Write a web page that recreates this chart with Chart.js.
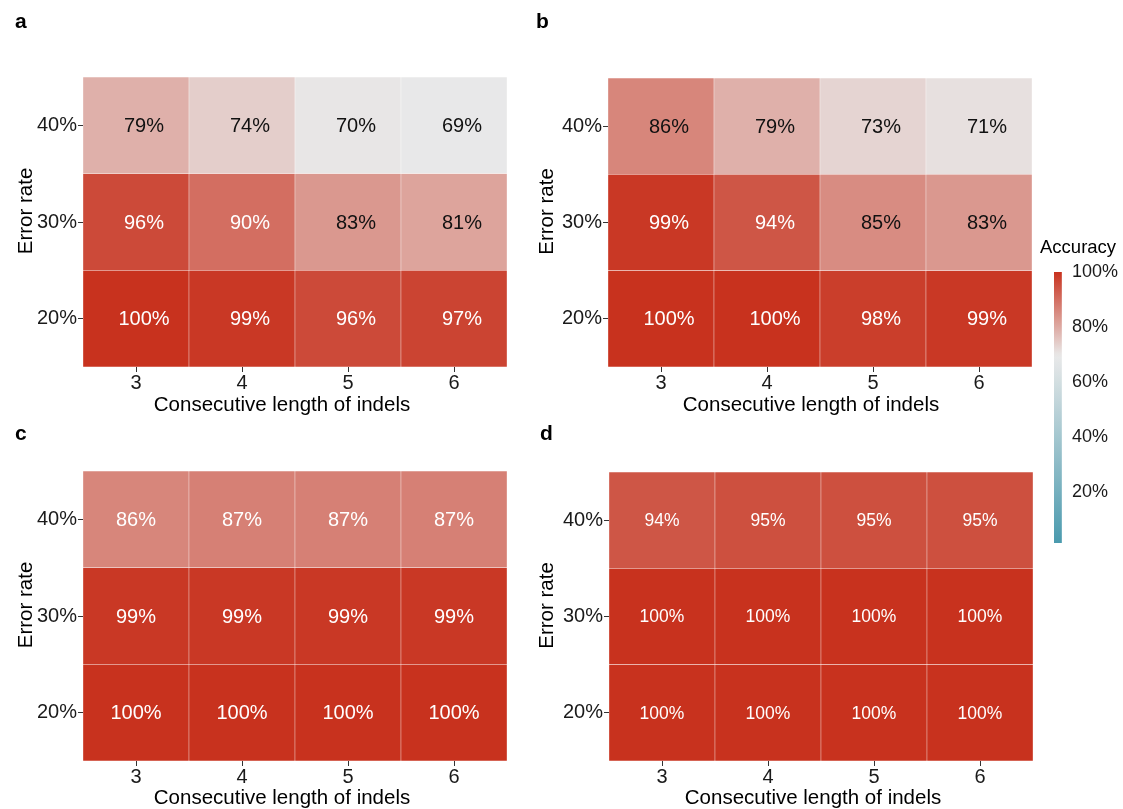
<!DOCTYPE html>
<html>
<head>
<meta charset="utf-8">
<script src="https://cdn.jsdelivr.net/npm/chart.js@4.4.1/dist/chart.umd.min.js"></script>
<style>
  html, body { margin: 0; padding: 0; background: #ffffff; }
  body { width: 1123px; height: 809px; position: relative; overflow: hidden; }
  canvas { position: absolute; }
</style>
</head>
<body>
<canvas id="panelA"></canvas>
<canvas id="panelB"></canvas>
<canvas id="panelC"></canvas>
<canvas id="panelD"></canvas>
<canvas id="legendBar"></canvas>
<script>
// Categories
const indelLengths = ['3', '4', '5', '6'];
const errorRates = ['20%', '30%', '40%'];

// Accuracy (%) by error rate row, for indel lengths 3..6
const accA_err20 = [100, 99, 96, 97];
const accA_err30 = [96, 90, 83, 81];
const accA_err40 = [79, 74, 70, 69];

const accB_err20 = [100, 100, 98, 99];
const accB_err30 = [99, 94, 85, 83];
const accB_err40 = [86, 79, 73, 71];

const accC_err20 = [100, 100, 100, 100];
const accC_err30 = [99, 99, 99, 99];
const accC_err40 = [86, 87, 87, 87];

const accD_err20 = [100, 100, 100, 100];
const accD_err30 = [100, 100, 100, 100];
const accD_err40 = [94, 95, 95, 95];

// Colour bar
const legendTicks = [20, 40, 60, 80, 100];
const legendRange = [1.3, 100];

const FONT = "'Liberation Sans', Arial, Helvetica, sans-serif";
Chart.defaults.font.family = FONT;

// ---- diverging fill: teal -> light grey -> red ----
function hexToRgb(h) {
  return [parseInt(h.slice(1, 3), 16), parseInt(h.slice(3, 5), 16), parseInt(h.slice(5, 7), 16)];
}
const LOW = hexToRgb('#4a9aae');
const MID = hexToRgb('#e9e9e9');
const HIGH = hexToRgb('#c8321e');
const MID_AT = 69.5;
function accuracyColor(pct) {
  let a, b, t;
  if (pct >= MID_AT) { a = MID; b = HIGH; t = (pct - MID_AT) / (100 - MID_AT); }
  else { a = LOW; b = MID; t = (pct - legendRange[0]) / (MID_AT - legendRange[0]); }
  t = Math.max(0, Math.min(1, t));
  const rgb = [0, 1, 2].map(i => Math.round(a[i] + (b[i] - a[i]) * t));
  return 'rgb(' + rgb.join(',') + ')';
}

// ---- cell value labels, axis titles and panel tags ----
const cellLabels = {
  id: 'cellLabels',
  afterDatasetsDraw(chart, args, opts) {
    const ctx = chart.ctx;
    ctx.save();
    ctx.font = opts.size + 'px ' + FONT;
    ctx.textAlign = 'center';
    ctx.textBaseline = 'middle';
    chart.data.datasets.forEach((ds, di) => {
      const meta = chart.getDatasetMeta(di);
      meta.data.forEach((el, i) => {
        const v = ds.values[i];
        ctx.fillStyle = v >= opts.whiteFrom ? '#ffffff' : '#111111';
        ctx.fillText(v + '%', el.x + opts.shift, (el.y + el.base) / 2 + 1);
      });
    });
    ctx.restore();
  }
};
const axisTitles = {
  id: 'axisTitles',
  afterDraw(chart, args, opts) {
    const ctx = chart.ctx;
    const area = chart.chartArea;
    ctx.save();
    ctx.font = opts.size + 'px ' + FONT;
    ctx.fillStyle = '#000';
    ctx.textAlign = 'center';
    ctx.textBaseline = 'middle';
    ctx.fillText(opts.xText, (area.left + area.right) / 2 + opts.xShift, opts.xTitleY);
    ctx.translate(opts.yTitleX, (area.top + area.bottom) / 2 + opts.yShift);
    ctx.rotate(-Math.PI / 2);
    ctx.fillText(opts.yText, 0, 0);
    ctx.restore();
  }
};
const panelTag = {
  id: 'panelTag',
  afterDraw(chart, args, opts) {
    const ctx = chart.ctx;
    ctx.save();
    ctx.font = 'bold ' + opts.size + 'px ' + FONT;
    ctx.fillStyle = '#000';
    ctx.textAlign = 'left';
    ctx.textBaseline = 'alphabetic';
    ctx.fillText(opts.text, opts.x, opts.y);
    ctx.restore();
  }
};

function heatmap(id, p) {
  const canvas = document.getElementById(id);
  canvas.width = p.w; canvas.height = p.h;
  canvas.style.left = p.x + 'px'; canvas.style.top = p.y + 'px';
  const datasets = p.rows.map((vals, r) => ({
    data: vals.map(() => [r + 0.5, r + 1.5]),
    values: vals,
    backgroundColor: vals.map(accuracyColor),
    borderColor: '#ffffff',
    borderWidth: 0.5,
    borderSkipped: false,
    grouped: false,
    barPercentage: 1,
    categoryPercentage: 1
  }));
  return new Chart(canvas, {
    type: 'bar',
    data: { labels: indelLengths, datasets },
    plugins: [cellLabels, axisTitles, panelTag],
    options: {
      responsive: false,
      animation: false,
      devicePixelRatio: 1,
      layout: { padding: { top: p.padTop, right: p.padRight, left: 0, bottom: 0 } },
      plugins: {
        legend: { display: false },
        tooltip: { enabled: false },
        cellLabels: { size: p.labelSize, whiteFrom: p.whiteFrom, shift: p.labelShift },
        axisTitles: {
          size: 20.5,
          xText: 'Consecutive length of indels', xShift: p.xTitleShift, xTitleY: p.xTitleY,
          yText: 'Error rate', yShift: -11, yTitleX: p.yTitleX
        },
        panelTag: { text: p.tag, x: p.tagX, y: p.tagY, size: 21 }
      },
      scales: {
        x: {
          type: 'category',
          offset: true,
          grid: { display: true, offset: false, drawOnChartArea: false, drawTicks: true, tickLength: 5, tickWidth: 1, tickColor: '#333333' },
          border: { display: false },
          ticks: { color: '#1a1a1a', font: { size: 20, lineHeight: 1 }, padding: 1, maxRotation: 0 },
          title: { display: false },
          afterFit(s) { s.height = p.xAxisH; }
        },
        y: {
          type: 'linear',
          min: 0.5,
          max: 3.5,
          afterBuildTicks(s) { s.ticks = [1, 2, 3].map(v => ({ value: v })); },
          grid: { display: true, drawOnChartArea: false, drawTicks: true, tickLength: 5, tickWidth: 1, tickColor: '#333333' },
          border: { display: false },
          ticks: { color: '#1a1a1a', font: { size: 20, lineHeight: 1 }, padding: 1, callback: v => errorRates[v - 1] },
          title: { display: false },
          afterFit(s) { s.width = p.yAxisW; }
        }
      }
    }
  });
}

heatmap('panelA', {
  rows: [accA_err20, accA_err30, accA_err40],
  x: 0, y: 0, w: 520, h: 420, padTop: 77, padRight: 13, yAxisW: 83, xAxisH: 53,
  xTitleY: 405, xTitleShift: -13, yTitleX: 26,
  labelSize: 20, whiteFrom: 88, labelShift: 8,
  tag: 'a', tagX: 15, tagY: 28
});
heatmap('panelB', {
  rows: [accB_err20, accB_err30, accB_err40],
  x: 520, y: 0, w: 525, h: 420, padTop: 78, padRight: 13, yAxisW: 88, xAxisH: 53,
  xTitleY: 405, xTitleShift: -9, yTitleX: 27,
  labelSize: 20, whiteFrom: 90, labelShift: 8,
  tag: 'b', tagX: 16, tagY: 28
});
heatmap('panelC', {
  rows: [accC_err20, accC_err30, accC_err40],
  x: 0, y: 420, w: 520, h: 389, padTop: 51, padRight: 13, yAxisW: 83, xAxisH: 48,
  xTitleY: 378, xTitleShift: -13, yTitleX: 26,
  labelSize: 20, whiteFrom: 85, labelShift: 0,
  tag: 'c', tagX: 15, tagY: 20
});
heatmap('panelD', {
  rows: [accD_err20, accD_err30, accD_err40],
  x: 520, y: 420, w: 525, h: 389, padTop: 52, padRight: 12, yAxisW: 89, xAxisH: 48,
  xTitleY: 378, xTitleShift: -8, yTitleX: 27,
  labelSize: 17.5, whiteFrom: 90, labelShift: 0,
  tag: 'd', tagX: 20, tagY: 20
});

// ---- colour bar legend ----
(function () {
  const canvas = document.getElementById('legendBar');
  const X = 1030, Y = 230, W = 93, H = 330;
  canvas.width = W; canvas.height = H;
  canvas.style.left = X + 'px'; canvas.style.top = Y + 'px';
  const legendTitle = {
    id: 'legendTitle',
    afterDraw(chart) {
      const ctx = chart.ctx;
      ctx.save();
      ctx.font = '18.5px ' + FONT;
      ctx.fillStyle = '#000';
      ctx.textAlign = 'left';
      ctx.textBaseline = 'middle';
      ctx.fillText('Accuracy', 10, 18);
      ctx.restore();
    }
  };
  function barGradient(context) {
    const chart = context.chart;
    if (!chart.chartArea) return '#e9e9e9';
    const ys = chart.scales.y;
    const g = chart.ctx.createLinearGradient(0, ys.getPixelForValue(legendRange[0]), 0, ys.getPixelForValue(legendRange[1]));
    const n = 60;
    for (let i = 0; i <= n; i++) {
      const v = legendRange[0] + (legendRange[1] - legendRange[0]) * i / n;
      g.addColorStop(i / n, accuracyColor(v));
    }
    return g;
  }
  new Chart(canvas, {
    type: 'bar',
    data: {
      labels: [''],
      datasets: [{
        data: [legendRange],
        backgroundColor: barGradient,
        borderWidth: 0,
        barPercentage: 1,
        categoryPercentage: 1
      }]
    },
    plugins: [legendTitle],
    options: {
      responsive: false,
      animation: false,
      devicePixelRatio: 1,
      layout: { padding: { top: 42, right: 0, left: 24, bottom: 17 } },
      plugins: { legend: { display: false }, tooltip: { enabled: false } },
      scales: {
        x: { display: false, offset: false },
        y: {
          position: 'right',
          min: legendRange[0],
          max: legendRange[1],
          afterBuildTicks(s) { s.ticks = legendTicks.map(v => ({ value: v })); },
          grid: { display: false, drawTicks: false },
          border: { display: false },
          ticks: { color: '#1a1a1a', font: { size: 18, lineHeight: 1 }, padding: 3, callback: v => v + '%' },
          afterFit(s) { s.width = 54; }
        }
      }
    }
  });
})();
</script>
</body>
</html>
